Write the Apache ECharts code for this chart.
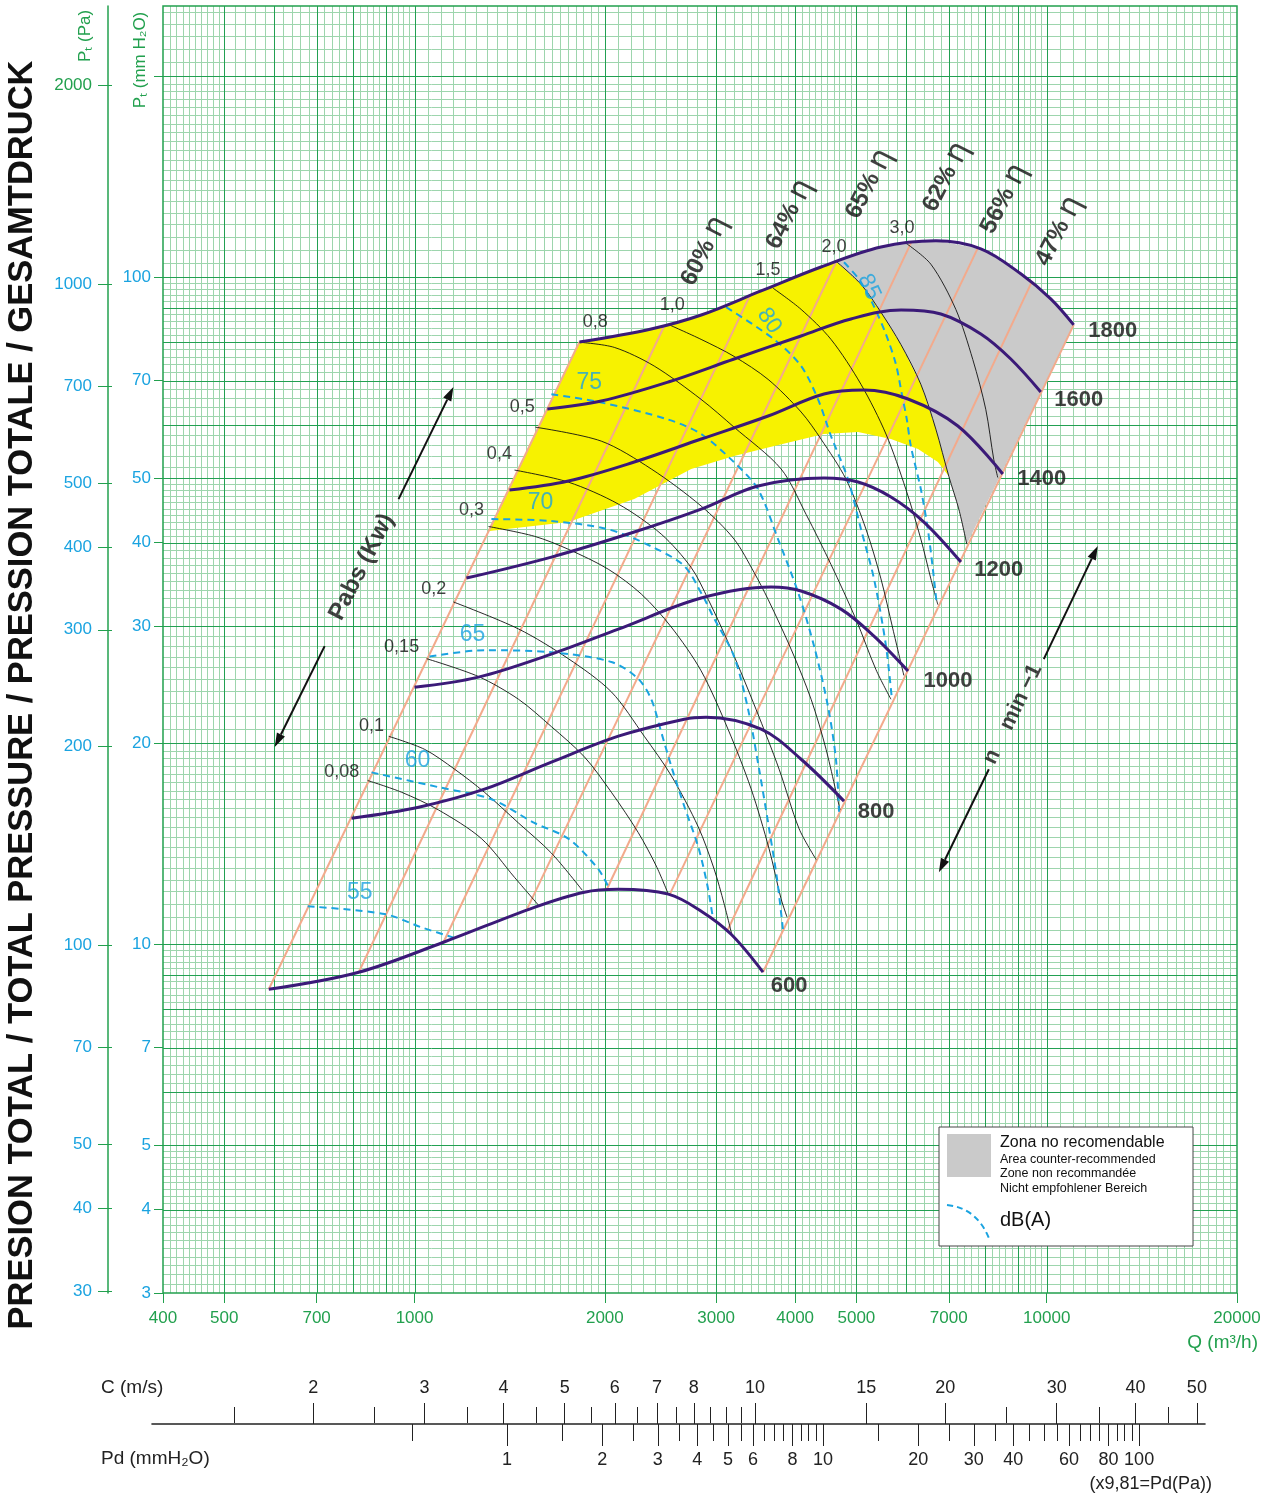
<!DOCTYPE html>
<html>
<head>
<meta charset="utf-8">
<script src="https://cdn.jsdelivr.net/npm/echarts@6.0.0/dist/echarts.min.js"></script>
<style>
  html, body { margin: 0; padding: 0; background: #fff; }
  #chart { width: 1272px; height: 1497px; }
</style>
</head>
<body>
<div id="chart"></div>
<script>
// ---------- data (Q in m3/h, P in mm H2O) ----------
const qTicks = [400, 500, 700, 1000, 2000, 3000, 4000, 5000, 7000, 10000, 20000];
const pmmTicks = [3, 4, 5, 7, 10, 20, 30, 40, 50, 70, 100, 200];
const pmmLabels = [3, 4, 5, 7, 10, 20, 30, 40, 50, 70, 100];
const paLabels = [30, 40, 50, 70, 100, 200, 300, 400, 500, 700, 1000, 2000];
const cLabels = [2, 3, 4, 5, 6, 7, 8, 10, 15, 20, 30, 40, 50];
const cMinor = [1.5, 2.5, 3.5, 4.5, 5.5, 6.5, 7.5, 8.5, 9, 9.5, 25, 35, 45];
const pdLabels = [1, 2, 3, 4, 5, 6, 8, 10, 20, 30, 40, 60, 80, 100];
const pdMinor = [0.5, 1.5, 2.5, 3.5, 4.5, 5.5, 6.5, 7, 7.5, 8.5, 9, 9.5, 15, 25, 35, 45, 50, 55, 65, 70, 75, 85, 90, 95];

// fan speed curves (rpm)
const rpm600 = [[588, 8.56], [816, 9.08], [1111, 10.07], [1547, 11.36], [1856, 11.97], [2101, 12.09], [2520, 11.89], [2841, 11.21], [3168, 10.35], [3558, 9.08]];
const rpm800 = [[795, 15.45], [1015, 16.05], [1290, 17.08], [1646, 18.75], [2101, 20.51], [2671, 21.75], [2893, 21.9], [3534, 21.01], [4088, 18.94], [4779, 16.39]];
const rpm1000 = [[1000, 24.29], [1262, 25.15], [1646, 27.23], [2101, 29.68], [2841, 33.04], [3664, 34.32], [4087, 33.85], [4727, 31.8], [5330, 28.97], [6034, 25.68]];
const rpm1200 = [[1208, 35.4], [1646, 38.06], [2226, 41.5], [2841, 44.91], [3495, 48.64], [4443, 50], [5030, 49.32], [5670, 46.83], [6394, 42.95], [7316, 37.41]];
const rpm1400 = [[1413, 47.97], [1751, 49.49], [2226, 52.84], [2841, 57.21], [3625, 61.94], [4443, 66.83], [5140, 67.76], [6034, 65.69], [7236, 59.84], [8522, 50.7]];
const rpm1600 = [[1622, 63.47], [1974, 65.24], [2520, 69.66], [3203, 75.42], [4087, 81.66], [4902, 86.6], [5883, 89.33], [6801, 88.1], [7867, 82.22], [8774, 75.42], [9786, 67.3]];
const rpm1800 = [[1823, 79.98], [2368, 83.66], [2841, 87.79], [3534, 95.39], [4395, 103.6], [5468, 111], [6678, 113.4], [7867, 110.3], [9099, 101.2], [10148, 92.79], [11033, 84.83]];
const rpmNames = ['600', '800', '1000', '1200', '1400', '1600', '1800'];
const rpmLabelPos = [[3913, 8.65], [5370, 15.78], [6978, 24.8], [8399, 36.39], [9822, 49.83], [11237, 65.46], [12718, 83.1]];

// system lines (bottom point on 600 rpm, top point on 1800 rpm)
const sysLines = [
  [[588, 8.56], [1823, 79.98]],
  [[816, 9.08], [2483, 84.53]],
  [[1111, 10.07], [3396, 94.08]],
  [[1503, 11.24], [4643, 105.4]],
  [[2011, 12.05], [6100, 112.6]],
  [[2529, 11.84], [7783, 110.7]],
  [[3122, 10.46], [9471, 98.4]],
  [[3558, 9.08], [11033, 84.83]]
];
const effNames = ['60%', '64%', '65%', '62%', '56%', '47%'];
const effLabelPos = [[2872, 109.5], [3913, 124.3], [5235, 138], [6926, 141.4], [8553, 131.1], [10447, 117.3]];

// absorbed power curves (kW)
const pow008 = [[843, 17.6], [954, 16.9], [1091, 15.9], [1276, 14.4], [1439, 12.6], [1576, 11.4]];
const pow010 = [[910, 20.5], [1037, 19.6], [1157, 18.3], [1290, 16.9], [1460, 15.2], [1646, 13.7], [1842, 12.05]];
const pow015 = [[1045, 26.8], [1262, 25.2], [1460, 23.3], [1646, 21.2], [1856, 19.1], [2048, 16.9], [2259, 14.7], [2412, 13.1], [2519, 11.9]];
const pow020 = [[1152, 32.6], [1460, 29.7], [1751, 26.8], [2048, 23.9], [2309, 20.5], [2547, 17.9], [2810, 15.0], [2978, 12.96], [3088, 11.5], [3179, 10.3]];
const pow030 = [[1309, 42.3], [1547, 40.9], [1751, 39.1], [2025, 36.5], [2284, 33.5], [2547, 29.9], [2840, 25.7], [3133, 21.0], [3407, 17.1], [3638, 13.9], [3800, 11.7], [3884, 10.98]];
const pow040 = [[1439, 51.4], [1751, 49.3], [2101, 45.7], [2456, 41.2], [2740, 36.7], [2914, 32.9], [3168, 27.7], [3469, 22.5], [3773, 18.3], [4058, 14.9], [4317, 13.4]];
const pow050 = [[1553, 59.6], [1974, 56.8], [2368, 51.6], [2840, 45.4], [3202, 40.5], [3444, 36.1], [3624, 32.9], [3941, 27.7], [4239, 23.3], [4477, 19.6], [4710, 15.9]];
const pow080 = [[1823, 79.9], [2070, 78.5], [2394, 73.6], [2840, 65.6], [3202, 59.6], [3800, 51.6], [4163, 44.1], [4558, 37.1], [4992, 30.7], [5370, 25.8], [5670, 23.3]];
const pow100 = [[2519, 85.0], [2840, 80.7], [3202, 76.1], [3624, 70.3], [4088, 62.8], [4395, 57.2], [4814, 49.8], [5178, 41.9], [5468, 35.3], [5710, 29.7], [5943, 25.3]];
const pow150 = [[3691, 96.3], [4088, 89.5], [4558, 80.7], [5084, 69.1], [5569, 58.2], [5987, 48.1], [6323, 40.5], [6558, 35.3], [6726, 32.3]];
const pow200 = [[4642, 105.7], [5084, 97.6], [5468, 88.6], [5879, 79.3], [6323, 69.1], [6678, 59.2], [7001, 50.3], [7261, 44.9], [7474, 39.8]];
const pow300 = [[5987, 112.5], [6558, 104.6], [7182, 89.5], [7639, 75.3], [8009, 63.4], [8246, 53.3], [8367, 50.1]];
const powNames = ['0,08', '0,1', '0,15', '0,2', '0,3', '0,4', '0,5', '0,8', '1,0', '1,5', '2,0', '3,0'];
const powLabelPos = [[767, 18.11], [855, 21.23], [954, 27.9], [1072, 34.08], [1230, 44.77], [1362, 54.33], [1481, 63.91], [1932, 85.7], [2556, 90.89], [3625, 102.6], [4609, 111], [5902, 118.6]];

// noise curves dB(A)
const db55 = [[677.5, 11.4], [896.7, 11.1], [1026, 10.6], [1165, 10.2]];
const db60 = [[855, 18.1], [1091, 17.2], [1323, 16.5], [1547, 15.2], [1751, 14.4], [1953, 12.96], [2033, 12.1]];
const db65 = [[1056, 27.0], [1290, 27.6], [1646, 27.4], [2048, 26.5], [2259, 25.0], [2368, 23.3], [2456, 20.8], [2547, 18.5], [2671, 16.1], [2810, 14.0], [2903, 12.3], [2967, 10.9]];
const db70 = [[1323, 43.4], [1646, 43.1], [2025, 41.9], [2368, 39.5], [2671, 36.9], [2861, 33.2], [2967, 31.0], [3202, 27.0], [3370, 22.5], [3508, 18.3], [3638, 14.9], [3746, 12.5], [3827, 10.5]];
const db75 = [[1646, 66.8], [1974, 64.9], [2519, 61.2], [2840, 58.2], [3202, 52.8], [3494, 48.1], [3758, 40.5], [4043, 33.7], [4285, 28.0], [4509, 22.7], [4642, 18.9], [4693, 15.8]];
const db80 = [[3111, 90.2], [3705, 80.7], [4088, 73.6], [4348, 65.6], [4558, 57.8], [4849, 49.8], [5084, 41.9], [5331, 35.3], [5569, 28.0], [5690, 23.3]];
const db85 = [[4779, 105.3], [5047, 99.3], [5311, 91.1], [5569, 82.1], [5773, 74.1], [5900, 66.8], [6008, 61.2], [6097, 55.8], [6323, 48.1], [6486, 41.9], [6606, 36.5], [6701, 32.3]];
const dbNames = ['55', '60', '65', '70', '75', '80', '85'];
const dbLabelPos = [[819, 11.97], [1011, 18.82], [1235, 29.08], [1582, 45.86], [1890, 69.42], [3639, 86], [5235, 96.7]];

// zones
const yellowZone = [[1314, 41.65], [1823, 79.98], [2368, 83.66], [2841, 87.79], [3534, 95.39], [4395, 103.6], [4642, 105.7],
  [5084, 97.6], [5468, 88.6], [5879, 79.3], [6323, 69.1], [6678, 59.2], [7001, 50.3], [6728, 52.84], [6258, 55.26], [5670, 57.21],
  [5030, 58.61], [4443, 58.21], [3706, 55.85], [3203, 53.95], [2739, 51.58], [2226, 46.5], [1751, 42.95]];
const grayZone = [[4642, 105.7], [5468, 111], [6678, 113.4], [7867, 110.3], [9099, 101.2], [10148, 92.79], [11033, 84.83],
  [7474, 39.8], [7261, 44.9], [7001, 50.3], [6678, 59.2], [6323, 69.1], [5879, 79.3], [5468, 88.6], [5084, 97.6]];

// annotation arrows [q1, p1, q2, p2] (arrow head at second point)
const arrows = [[720.7, 27.99, 600.9, 19.75], [943.4, 46.5, 1152, 68.46], [8100, 18.3, 6752, 12.82], [9894, 26.76, 12045, 39.54]];
const pabsTextPos = [824.6, 36.78];
const nTextPos = [8839, 22.13];

// ---------- styling ----------
const FONT = '"Liberation Sans", Arial, Helvetica, sans-serif';
const GREEN = '#22a04e';
const CYAN = '#1aa3e0';
const MINOR = '#9dd5ad';
const MAJOR = '#22a052';

// log-paper rulings (axis structure, not data)
function steps(a, b, s) {
  const out = [];
  for (let v = a; v < b - s / 2; v += s) out.push(Math.round(v * 1000) / 1000);
  return out;
}
const xMajor = [].concat(steps(500, 1000, 100), steps(1000, 10000, 1000), [10000]);
const yMajor = [].concat(steps(4, 10, 1), steps(10, 100, 10), [100, 200]);
const xMinor = [].concat(steps(400, 500, 10), steps(500, 1000, 20), steps(1000, 2000, 50), steps(2000, 5000, 100), steps(5000, 10000, 200), steps(10000, 20000, 500))
  .filter(function (v) { return v > 400 && xMajor.indexOf(v) < 0; });
const yMinor = [].concat(steps(3, 5, 0.1), steps(5, 10, 0.2), steps(10, 20, 0.5), steps(20, 50, 1), steps(50, 100, 2), steps(100, 200, 5), steps(200, 260, 10))
  .filter(function (v) { return v > 3 && yMajor.indexOf(v) < 0; });

const Q_MIN = 400, Q_MAX = 20000, P_MIN = 3, P_MAX = 255.1;

const series = [];

function rulings(name, vals, vertical, color, z) {
  return {
    type: 'custom', name: name, xAxisIndex: 0, yAxisIndex: 0, z: z, silent: true, clip: false,
    data: vals.map(function (v) { return vertical ? [v, P_MIN] : [Q_MIN, v]; }),
    renderItem: function (params, api) {
      const v = vertical ? api.value(0) : api.value(1);
      const a = api.coord(vertical ? [v, P_MIN] : [Q_MIN, v]);
      const b = api.coord(vertical ? [v, P_MAX] : [Q_MAX, v]);
      if (vertical) {
        const x = Math.round(a[0]) + 0.5;
        return { type: 'line', shape: { x1: x, y1: a[1], x2: x, y2: b[1] }, style: { stroke: color, lineWidth: 1 } };
      }
      const y = Math.round(a[1]) + 0.5;
      return { type: 'line', shape: { x1: a[0], y1: y, x2: b[0], y2: y }, style: { stroke: color, lineWidth: 1 } };
    }
  };
}
series.push(rulings('xMinor', xMinor, true, MINOR, 0));
series.push(rulings('yMinor', yMinor, false, MINOR, 0));
series.push(rulings('xMajor', xMajor, true, MAJOR, 0.5));
series.push(rulings('yMajor', yMajor, false, MAJOR, 0.5));

// zones
function zone(name, poly, color) {
  return {
    type: 'custom', name: name, xAxisIndex: 0, yAxisIndex: 0, z: 1, silent: true,
    data: [poly[0]],
    renderItem: function (params, api) {
      return { type: 'polygon', shape: { points: poly.map(function (p) { return api.coord(p); }) }, style: { fill: color } };
    }
  };
}
series.push(zone('yellow', yellowZone, '#f7f200'));
series.push(zone('gray', grayZone, '#cacaca'));

function curve(name, data, z, lineStyle, smooth) {
  return {
    type: 'line', name: name, xAxisIndex: 0, yAxisIndex: 0, z: z, silent: true,
    data: data, smooth: smooth, showSymbol: false, symbol: 'none', lineStyle: lineStyle
  };
}

// system lines
sysLines.forEach(function (l, i) {
  series.push(curve('sys' + i, l, 2, { color: '#f3aa8c', width: 2 }, false));
});

// absorbed power curves
[pow008, pow010, pow015, pow020, pow030, pow040, pow050, pow080, pow100, pow150, pow200, pow300].forEach(function (d, i) {
  series.push(curve('kW ' + powNames[i], d, 3, { color: '#111', width: 0.9 }, 0.3));
});

// noise curves
[db55, db60, db65, db70, db75, db80, db85].forEach(function (d, i) {
  series.push(curve('dB ' + dbNames[i], d, 4, { color: CYAN, width: 2, type: [7, 5] }, 0.3));
});

// rpm curves
[rpm600, rpm800, rpm1000, rpm1200, rpm1400, rpm1600, rpm1800].forEach(function (d, i) {
  series.push(curve(rpmNames[i], d, 5, { color: '#3b1a78', width: 3 }, 0.35));
});

// text labels
function texts(name, pos, names, label) {
  return {
    type: 'scatter', name: name, xAxisIndex: 0, yAxisIndex: 0, z: 10, silent: true,
    symbolSize: 1, itemStyle: { color: 'rgba(0,0,0,0)' },
    data: pos.map(function (p, i) { return { value: p, name: names[i] }; }),
    label: Object.assign({ show: true, position: 'inside', formatter: function (p) { return p.name; },
      fontFamily: FONT, align: 'center', verticalAlign: 'middle' }, label)
  };
}
series.push(texts('rpmLabels', rpmLabelPos, rpmNames, { fontSize: 22, fontWeight: 'bold', color: '#111' }));
series.push(texts('powLabels', powLabelPos, powNames, { fontSize: 18, color: '#111' }));
series.push(texts('effLabels', effLabelPos, effNames, {
  rotate: 63, color: '#111',
  formatter: function (p) { return '{p|' + p.name + '}  {e|η}'; },
  rich: { p: { fontSize: 24, fontWeight: 'bold', fontFamily: FONT, color: '#111' }, e: { fontSize: 31, fontFamily: '"DejaVu Sans", sans-serif', color: '#111' } }
}));
const dbSeries = texts('dbLabels', dbLabelPos, dbNames, { fontSize: 23, color: CYAN });
dbSeries.data[5].label = { rotate: -55 };
dbSeries.data[6].label = { rotate: -65 };
series.push(dbSeries);
series.push(texts('pabs', [pabsTextPos], ['Pabs (Kw)'], { fontSize: 24, fontWeight: 'bold', color: '#111', rotate: 63 }));
series.push(texts('nmin', [nTextPos], ['n    min −1'], { fontSize: 22, fontWeight: 'bold', color: '#111', rotate: 64 }));

// arrows
series.push({
  type: 'custom', name: 'arrows', xAxisIndex: 0, yAxisIndex: 0, z: 9, silent: true,
  data: arrows,
  renderItem: function (params, api) {
    const a = api.coord([api.value(0), api.value(1)]);
    const b = api.coord([api.value(2), api.value(3)]);
    const ang = Math.atan2(b[1] - a[1], b[0] - a[0]);
    const L = 14, W = 4.5;
    const base = [b[0] - L * Math.cos(ang), b[1] - L * Math.sin(ang)];
    return {
      type: 'group', children: [
        { type: 'line', shape: { x1: a[0], y1: a[1], x2: base[0], y2: base[1] }, style: { stroke: '#111', lineWidth: 2 } },
        { type: 'polygon', shape: { points: [b, [base[0] + W * Math.sin(ang), base[1] - W * Math.cos(ang)], [base[0] - W * Math.sin(ang), base[1] + W * Math.cos(ang)]] }, style: { fill: '#111' } }
      ]
    };
  }
});

const option = {
  animation: false,
  backgroundColor: '#fff',
  textStyle: { fontFamily: FONT },
  grid: [
    { left: 163, top: 6, width: 1074, height: 1287, show: true, borderColor: GREEN, borderWidth: 1.5, backgroundColor: 'transparent', z: 3 },
    { left: 152, top: 1423, width: 1053, height: 1 }
  ],
  xAxis: [
    {
      gridIndex: 0, type: 'log', min: Q_MIN, max: Q_MAX, position: 'bottom',
      axisLine: { show: false },
      axisTick: { show: true, customValues: qTicks, length: 10, lineStyle: { color: GREEN } },
      axisLabel: { customValues: qTicks, formatter: function (v) { return String(v); }, color: GREEN, fontSize: 17, margin: 17 },
      splitLine: { show: false }
    },
    {
      gridIndex: 1, type: 'log', min: 1.112, max: 51.5, position: 'top',
      axisLine: { show: true, lineStyle: { color: '#222', width: 1.6 } },
      axisTick: { show: true, customValues: cLabels, length: 21, lineStyle: { color: '#222' } },
      axisLabel: { customValues: cLabels, formatter: function (v) { return String(v); }, color: '#222', fontSize: 18, margin: 26 },
      splitLine: { show: false }
    },
    {
      gridIndex: 1, type: 'log', min: 1.112, max: 51.5, position: 'top',
      axisLine: { show: false }, axisLabel: { show: false },
      axisTick: { show: true, customValues: cMinor, length: 16, lineStyle: { color: '#222' } },
      splitLine: { show: false }
    },
    {
      gridIndex: 1, type: 'log', min: 0.07527, max: 161.6, position: 'bottom',
      axisLine: { show: false },
      axisTick: { show: true, customValues: pdLabels, length: 22, lineStyle: { color: '#222' } },
      axisLabel: { customValues: pdLabels, formatter: function (v) { return String(v); }, color: '#222', fontSize: 18, margin: 27 },
      splitLine: { show: false }
    },
    {
      gridIndex: 1, type: 'log', min: 0.07527, max: 161.6, position: 'bottom',
      axisLine: { show: false }, axisLabel: { show: false },
      axisTick: { show: true, customValues: pdMinor, length: 17, lineStyle: { color: '#222' } },
      splitLine: { show: false }
    }
  ],
  yAxis: [
    {
      gridIndex: 0, type: 'log', min: P_MIN, max: P_MAX, position: 'left',
      axisLine: { show: false },
      axisTick: { show: true, customValues: pmmTicks, length: 9, lineStyle: { color: GREEN } },
      axisLabel: { customValues: pmmLabels, formatter: function (v) { return String(v); }, color: CYAN, fontSize: 17, margin: 12 },
      splitLine: { show: false }
    },
    {
      gridIndex: 0, type: 'log', min: 29.79, max: 2633, position: 'left', offset: 55,
      axisLine: { show: true, lineStyle: { color: GREEN, width: 1.5 } },
      axisTick: { show: true, customValues: paLabels, length: 10, lineStyle: { color: GREEN } },
      axisLabel: {
        customValues: paLabels, margin: 16,
        formatter: function (v) { return (v === 2000 ? '{g|' : '{b|') + v + '}'; },
        rich: { g: { color: GREEN, fontSize: 17, fontFamily: FONT }, b: { color: CYAN, fontSize: 17, fontFamily: FONT } }
      },
      splitLine: { show: false }
    },
    {
      gridIndex: 0, type: 'log', min: 29.79, max: 2633, position: 'left', offset: 55,
      axisLine: { show: false }, axisLabel: { show: false },
      axisTick: { show: true, inside: true, customValues: paLabels, length: 4, lineStyle: { color: GREEN } },
      splitLine: { show: false }
    },
    { gridIndex: 1, type: 'value', show: false }
  ],
  series: series,
  graphic: [
    { type: 'text', x: 22, y: 695, rotation: Math.PI / 2, style: { text: 'PRESION TOTAL / TOTAL PRESSURE / PRESSION TOTALE / GESAMTDRUCK', font: 'bold 34.5px "Liberation Sans Narrow", "Liberation Sans", sans-serif', fill: '#111', align: 'center', verticalAlign: 'middle' } },
    { type: 'text', x: 85, y: 36, rotation: Math.PI / 2, style: { text: 'Pₜ (Pa)', font: '17px ' + FONT, fill: GREEN, align: 'center', verticalAlign: 'middle' } },
    { type: 'text', x: 140, y: 60, rotation: Math.PI / 2, style: { text: 'Pₜ (mm H₂O)', font: '17px ' + FONT, fill: GREEN, align: 'center', verticalAlign: 'middle' } },
    { type: 'text', x: 1258, y: 1343, style: { text: 'Q (m³/h)', font: '19px ' + FONT, fill: GREEN, align: 'right', verticalAlign: 'middle' } },
    { type: 'text', x: 101, y: 1388, style: { text: 'C (m/s)', font: '19px ' + FONT, fill: '#222', align: 'left', verticalAlign: 'middle' } },
    { type: 'text', x: 101, y: 1459, style: { text: 'Pd (mmH₂O)', font: '19px ' + FONT, fill: '#222', align: 'left', verticalAlign: 'middle' } },
    { type: 'text', x: 1212, y: 1484, style: { text: '(x9,81=Pd(Pa))', font: '18px ' + FONT, fill: '#222', align: 'right', verticalAlign: 'middle' } },
    // legend box
    { type: 'rect', shape: { x: 939, y: 1127, width: 254, height: 119 }, style: { fill: '#fff', stroke: '#444', lineWidth: 1 }, z: 20 },
    { type: 'rect', shape: { x: 947, y: 1134, width: 44, height: 43 }, style: { fill: '#cacaca' }, z: 21 },
    { type: 'text', x: 1000, y: 1143, style: { text: 'Zona no recomendable', font: '16px ' + FONT, fill: '#111', verticalAlign: 'middle' }, z: 21 },
    { type: 'text', x: 1000, y: 1160, style: { text: 'Area counter-recommended', font: '12.5px ' + FONT, fill: '#111', verticalAlign: 'middle' }, z: 21 },
    { type: 'text', x: 1000, y: 1174, style: { text: 'Zone non recommandée', font: '12.5px ' + FONT, fill: '#111', verticalAlign: 'middle' }, z: 21 },
    { type: 'text', x: 1000, y: 1189, style: { text: 'Nicht empfohlener Bereich', font: '12.5px ' + FONT, fill: '#111', verticalAlign: 'middle' }, z: 21 },
    { type: 'bezierCurve', shape: { x1: 947, y1: 1205, x2: 990, y2: 1241, cpx1: 978, cpy1: 1208 }, style: { stroke: CYAN, lineWidth: 2, lineDash: [6, 4], fill: null }, z: 21 },
    { type: 'text', x: 1000, y: 1220, style: { text: 'dB(A)', font: '20px ' + FONT, fill: '#111', verticalAlign: 'middle' }, z: 21 }
  ]
};

const chart = echarts.init(document.getElementById('chart'));
chart.setOption(option);
window.addEventListener('resize', function () { chart.resize(); });
</script>
</body>
</html>
